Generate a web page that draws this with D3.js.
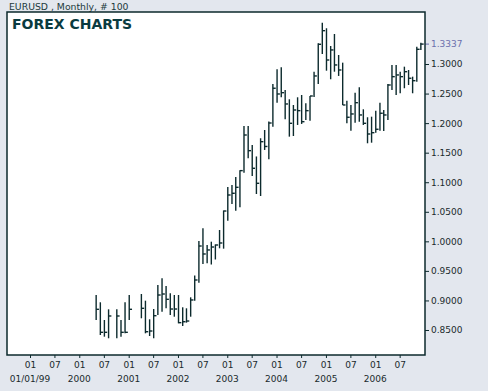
<!DOCTYPE html>
<html>
<head>
<meta charset="utf-8">
<script src="https://cdn.jsdelivr.net/npm/d3@7"></script>
<style>
  html, body { margin: 0; padding: 0; background: #e3e7ee; }
  svg { display: block; }
  text { font-family: "DejaVu Sans", Verdana, sans-serif; }
</style>
</head>
<body>
<script>
/* Monthly EURUSD bars (high, low, close) */
var months = ["2000-05","2000-06","2000-07","2000-08","2000-10","2000-11","2000-12",
  "2001-01","2001-04","2001-05","2001-06","2001-07","2001-08","2001-09","2001-10","2001-11","2001-12",
  "2002-01","2002-02","2002-03","2002-04","2002-05","2002-06","2002-07","2002-08","2002-09","2002-10","2002-11","2002-12",
  "2003-01","2003-02","2003-03","2003-04","2003-05","2003-06","2003-07","2003-08","2003-09","2003-10","2003-11","2003-12",
  "2004-01","2004-02","2004-03","2004-04","2004-05","2004-06","2004-07","2004-08","2004-09","2004-10","2004-11","2004-12",
  "2005-01","2005-02","2005-03","2005-04","2005-05","2005-06","2005-07","2005-08","2005-09","2005-10","2005-11","2005-12",
  "2006-01","2006-02","2006-03","2006-04","2006-05","2006-06","2006-07","2006-08","2006-09","2006-10","2006-11","2006-12"];

var highs = [0.9092,0.8969,0.8669,0.8850,0.8850,0.8669,0.8969,
  0.9092,0.9109,0.8996,0.8681,0.8855,0.9261,0.9375,0.9244,0.9121,0.9092,
  0.9092,0.8884,0.8867,0.9053,0.9420,1.0006,1.0221,0.9938,0.9994,0.9947,1.0192,1.0522,
  1.0920,1.0953,1.1089,1.1202,1.1952,1.1952,1.1630,1.1436,1.1744,1.1884,1.2028,1.2662,
  1.2911,1.2945,1.2561,1.2403,1.2307,1.2437,1.2476,1.2336,1.2459,1.2870,1.3351,1.3699,
  1.3605,1.3305,1.3508,1.3153,1.3023,1.2380,1.2307,1.2515,1.2607,1.2234,1.2099,1.2109,
  1.2211,1.2346,1.2222,1.2662,1.2984,1.2984,1.2870,1.2955,1.2899,1.2786,1.3293,1.3361];

var lows = [0.8669,0.8415,0.8387,0.8360,0.8360,0.8387,0.8444,
  0.8669,0.8698,0.8444,0.8398,0.8360,0.8754,0.8810,0.8867,0.8754,0.8725,
  0.8613,0.8568,0.8624,0.8725,0.8996,0.9300,0.9617,0.9629,0.9608,0.9693,0.9882,0.9876,
  1.0349,1.0632,1.0519,1.0576,1.1161,1.1405,1.1106,1.0801,1.0767,1.1546,1.1388,1.1940,
  1.2346,1.2437,1.2065,1.1771,1.1782,1.1969,1.1986,1.2053,1.2041,1.2440,1.2662,1.3170,
  1.2887,1.2742,1.2870,1.2798,1.2307,1.1997,1.1872,1.2008,1.2024,1.1969,1.1659,1.1669,
  1.1838,1.1872,1.1866,1.2053,1.2561,1.2476,1.2505,1.2590,1.2645,1.2505,1.2701,1.3238];

var closes = [0.8850,0.8461,0.8461,0.8737,0.8737,0.8461,0.8461,
  0.8850,0.8867,0.8471,0.8483,0.8742,0.9092,0.9109,0.9019,0.8855,0.8855,
  0.8624,0.8640,0.8652,0.9008,0.9346,0.9921,0.9786,0.9854,0.9904,0.9938,0.9972,1.0513,
  1.0784,1.0813,1.0914,1.1196,1.1799,1.1534,1.1236,1.0982,1.1686,1.1605,1.2002,1.2590,
  1.2493,1.2515,1.2324,1.1997,1.2222,1.2211,1.2024,1.2211,1.2459,1.2798,1.3334,1.3564,
  1.3068,1.3238,1.2984,1.2899,1.2307,1.2099,1.2155,1.2346,1.2138,1.1997,1.1816,1.1838,
  1.1896,1.2167,1.2138,1.2645,1.2786,1.2815,1.2786,1.2870,1.2759,1.2718,1.3249,1.3337];

/* Axis labels */
var priceTicks = [0.85, 0.90, 0.95, 1.00, 1.05, 1.10, 1.15, 1.20, 1.25, 1.30];
var yearLabels = ["01/01/99", "2000", "2001", "2002", "2003", "2004", "2005", "2006"];
var lastPrice = 1.3337;

/* Define width and height */
var width = 488,
    height = 391;

/* Plot box (names kept off window.top etc.) */
var boxL = 7, boxT = 12, boxR = 425, boxB = 355;

var ink = "#0c2a2d";

var svg = d3.select("body").append("svg")
    .attr("width", width)
    .attr("height", height);

/* Header text */
svg.append("text")
    .attr("x", 9)
    .attr("y", 10)
    .attr("font-size", 9.3)
    .attr("fill", "#1c3a3c")
    .text("EURUSD , Monthly, # 100");

/* White plot area */
svg.append("rect")
    .attr("x", boxL).attr("y", boxT)
    .attr("width", boxR - boxL).attr("height", boxB - boxT)
    .attr("fill", "#fff");

/* Scales */
var parseMonth = d3.timeParse("%Y-%m");
var x = d3.scaleTime()
    .domain([new Date(1999, 0, 1), new Date(2007, 0, 1)])
    .range([30, 424.5]);
var y = d3.scaleLinear()
    .domain([0.8077, 1.388])
    .range([boxB, boxT]);

var bars = months.map(function(m, i) {
    var d = parseMonth(m);
    d.setDate(5);
    return { date: d, high: highs[i], low: lows[i], close: closes[i] };
});

/* Clip to the plot box */
svg.append("clipPath").attr("id", "clip")
  .append("rect")
    .attr("x", boxL).attr("y", boxT)
    .attr("width", boxR - boxL).attr("height", boxB - boxT);

var plot = svg.append("g").attr("clip-path", "url(#clip)");

/* High-low lines */
plot.selectAll("line.hl")
    .data(bars)
    .enter().append("line")
    .attr("class", "hl")
    .attr("x1", function(d) { return x(d.date); })
    .attr("x2", function(d) { return x(d.date); })
    .attr("y1", function(d) { return y(d.high); })
    .attr("y2", function(d) { return y(d.low); })
    .attr("stroke", ink)
    .attr("stroke-width", 1.4);

/* Close ticks */
plot.selectAll("line.cl")
    .data(bars)
    .enter().append("line")
    .attr("class", "cl")
    .attr("x1", function(d) { return x(d.date); })
    .attr("x2", function(d) { return x(d.date) + 2.8; })
    .attr("y1", function(d) { return y(d.close); })
    .attr("y2", function(d) { return y(d.close); })
    .attr("stroke", ink)
    .attr("stroke-width", 1.4);

/* Chart title inside the box */
svg.append("text")
    .attr("x", 12)
    .attr("y", 29)
    .attr("font-size", 14)
    .attr("font-weight", "bold")
    .attr("fill", "#0a3b40")
    .text("FOREX CHARTS");

/* Right price axis */
var yAxis = d3.axisRight(y)
    .tickValues(priceTicks)
    .tickSize(4)
    .tickPadding(2)
    .tickFormat(d3.format(".4f"));

var gy = svg.append("g")
    .attr("transform", "translate(" + boxR + ",0)")
    .call(yAxis);
gy.select(".domain").remove();
gy.selectAll(".tick line").attr("stroke", ink);
gy.selectAll(".tick text")
    .attr("fill", "#1a2a2c")
    .attr("font-size", 9)
    .attr("font-family", "DejaVu Sans, Verdana, sans-serif");

/* Last price marker */
var gl = svg.append("g")
    .attr("transform", "translate(" + boxR + "," + y(lastPrice) + ")");
gl.append("line").attr("x2", 4).attr("stroke", "#6c70ad");
gl.append("text")
    .attr("x", 6).attr("dy", "0.32em")
    .attr("font-size", 9)
    .attr("fill", "#6c70ad")
    .text(d3.format(".4f")(lastPrice));

/* Bottom time axis */
var xAxis = d3.axisBottom(x)
    .ticks(d3.timeMonth.every(6))
    .tickSize(3)
    .tickPadding(4)
    .tickFormat(d3.timeFormat("%m"));

var gx = svg.append("g")
    .attr("transform", "translate(0," + boxB + ")")
    .call(xAxis);
gx.select(".domain").remove();
gx.selectAll(".tick").filter(function(d) { return d > new Date(2006, 11, 1); }).remove();
gx.selectAll(".tick line").attr("stroke", ink);
gx.selectAll(".tick text")
    .attr("fill", "#1a2a2c")
    .attr("font-size", 9)
    .attr("font-family", "DejaVu Sans, Verdana, sans-serif");

/* Year labels under each January */
svg.append("g").selectAll("text")
    .data(yearLabels)
    .enter().append("text")
    .attr("x", function(d, i) { return x(new Date(1999 + i, 0, 1)); })
    .attr("y", 382)
    .attr("text-anchor", "middle")
    .attr("font-size", 9)
    .attr("fill", "#1a2a2c")
    .text(function(d) { return d; });

/* Plot border */
svg.append("rect")
    .attr("x", boxL).attr("y", boxT)
    .attr("width", boxR - boxL).attr("height", boxB - boxT)
    .attr("fill", "none")
    .attr("stroke", ink)
    .attr("stroke-width", 1.5);
</script>
</body>
</html>
